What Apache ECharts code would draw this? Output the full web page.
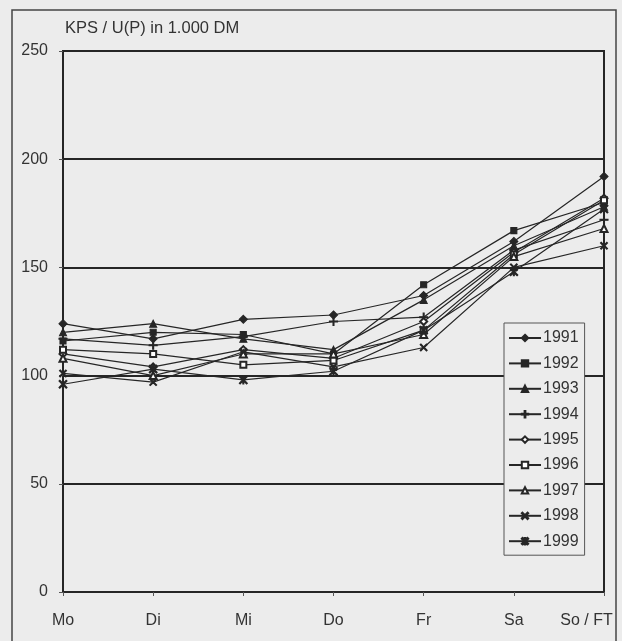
<!DOCTYPE html>
<html>
<head>
<meta charset="utf-8">
<script src="https://cdn.jsdelivr.net/npm/echarts@6/dist/echarts.min.js"></script>
<style>
  html, body { margin: 0; padding: 0; background: #ececec; }
  #chart { width: 622px; height: 641px; }
</style>
</head>
<body>
<div id="chart"></div>
<script>
// Weekday categories and yearly values (KPS / U(P) in 1.000 DM)
const days = ['Mo', 'Di', 'Mi', 'Do', 'Fr', 'Sa', 'So / FT'];
const years = ['1991', '1992', '1993', '1994', '1995', '1996', '1997', '1998', '1999'];

const v1991 = [124, 117, 126, 128, 137, 162, 192];
const v1992 = [116, 120, 119, 110, 142, 167, 180];
const v1993 = [120, 124, 117, 112, 135, 160, 178];
const v1994 = [117, 114, 118, 125, 127, 158, 172];
const v1995 = [110, 104, 112, 108, 125, 157, 182];
const v1996 = [112, 110, 105, 107, 121, 156, 181];
const v1997 = [108, 100, 110, 110, 119, 155, 168];
const v1998 = [101, 97, 111, 104, 113, 150, 160];
const v1999 = [96, 103, 98, 102, 121, 148, 177];

const yTicks = [0, 50, 100, 150, 200, 250];

const seriesValues = [v1991, v1992, v1993, v1994, v1995, v1996, v1997, v1998, v1999];

// Marker shapes, one per year
const plusPath = 'path://M4.4,0 L5.6,0 L5.6,4.4 L10,4.4 L10,5.6 L5.6,5.6 L5.6,10 L4.4,10 L4.4,5.6 L0,5.6 L0,4.4 L4.4,4.4 Z';
const crossPath = 'path://M1,0 L5,4 L9,0 L10,1 L6,5 L10,9 L9,10 L5,6 L1,10 L0,9 L4,5 L0,1 Z';
const starPath = 'path://M1,0 L4.4,3.4 L4.4,0 L5.6,0 L5.6,3.4 L9,0 L10,1 L6,5 L10,9 L9,10 L5.6,6.6 L5.6,10 L4.4,10 L4.4,6.6 L1,10 L0,9 L4,5 L0,1 Z';
const symbols = ['diamond', 'rect', 'triangle', plusPath, 'emptyDiamond', 'emptyRect', 'emptyTriangle', crossPath, starPath];
const sizes = [8, 6, 7, 8, 7, 6, 7, 7, 8];

const ink = '#262626';
const font = 'Liberation Sans, Arial, sans-serif';

const chart = echarts.init(document.getElementById('chart'));

chart.setOption({
  backgroundColor: '#ececec',
  animation: false,
  textStyle: { fontFamily: font, color: '#333' },
  graphic: [{
    type: 'rect',
    shape: { x: 12, y: 10, width: 604, height: 640 },
    style: { fill: 'none', stroke: '#444', lineWidth: 1.5 },
    silent: true
  }],
  title: {
    text: 'KPS / U(P) in 1.000 DM',
    left: 65,
    top: 20,
    padding: 0,
    textStyle: { fontFamily: font, fontSize: 16.5, fontWeight: 'normal', color: '#333' }
  },
  grid: {
    left: 63, right: 18, top: 51, bottom: 49,
    show: true, borderColor: ink, borderWidth: 2, backgroundColor: 'transparent'
  },
  legend: {
    orient: 'vertical',
    left: 504,
    top: 323,
    itemWidth: 32,
    itemHeight: 8,
    itemGap: 9.4,
    padding: [7, 6, 6, 4],
    borderColor: '#555',
    borderWidth: 1,
    borderRadius: 0,
    backgroundColor: '#ececec',
    textStyle: { fontFamily: font, fontSize: 16, color: '#333', padding: [0, 0, 0, -3] },
    data: years
  },
  xAxis: {
    type: 'category',
    data: days,
    boundaryGap: false,
    axisLine: { lineStyle: { color: ink, width: 2 } },
    axisTick: { show: true, alignWithLabel: true, interval: 0, length: 4, lineStyle: { color: '#555', width: 1 } },
    axisLabel: {
      interval: 0,
      fontFamily: font, fontSize: 16, color: '#333', margin: 21,
      formatter: (v) => v === 'So / FT' ? '{last|' + v + '}' : v,
      rich: { last: { fontFamily: font, fontSize: 16, color: '#333', padding: [0, 35, 0, 0] } }
    },
    splitLine: { show: false }
  },
  yAxis: {
    type: 'value',
    min: yTicks[0],
    max: yTicks[yTicks.length - 1],
    interval: 50,
    axisLine: { show: true, lineStyle: { color: ink, width: 2 } },
    axisTick: { show: true, length: 4, lineStyle: { color: '#555', width: 1 } },
    axisLabel: { fontFamily: font, fontSize: 16, color: '#333', margin: 15 },
    splitLine: { show: true, lineStyle: { color: ink, width: 2 } }
  },
  series: years.map((y, i) => ({
    name: y,
    type: 'line',
    data: seriesValues[i],
    symbol: symbols[i],
    symbolSize: sizes[i],
    showAllSymbol: true,
    lineStyle: { color: ink, width: 1.2 },
    itemStyle: { color: ink, borderColor: ink, borderWidth: 1.1 },
    emphasis: { disabled: true }
  }))
});
</script>
</body>
</html>
